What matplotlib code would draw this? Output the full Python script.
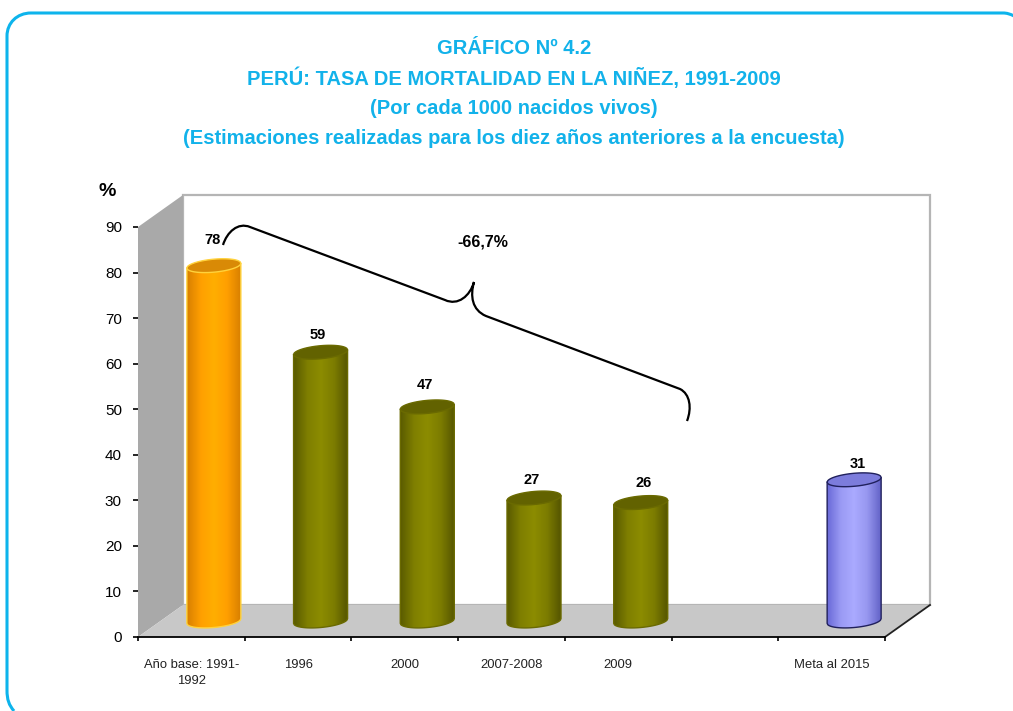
import matplotlib
matplotlib.use('Agg')
import matplotlib.pyplot as plt
import numpy as np
from matplotlib.colors import LinearSegmentedColormap
from matplotlib.patches import PathPatch, Polygon
from matplotlib.path import Path

categories = ['Año base: 1991-\n1992', '1996', '2000', '2007-2008', '2009', '', 'Meta al 2015']
values = [78, 59, 47, 27, 26, None, 31]
bar_colors = ['orange', 'olive', 'olive', 'olive', 'olive', None, 'blue']
yticks = list(range(0, 100, 10))
title_lines = ['GRÁFICO Nº 4.2',
               'PERÚ: TASA DE MORTALIDAD EN LA NIÑEZ, 1991-2009',
               '(Por cada 1000 nacidos vivos)',
               '(Estimaciones realizadas para los diez años anteriores a la encuesta)']

FONT = 'Liberation Sans'
W, H = 1013, 711
fig = plt.figure(figsize=(W / 100, H / 100), dpi=100)

# page overlay in pixels: frame, title, bracket
page = fig.add_axes([0, 0, 1, 1], zorder=3)
page.set_xlim(0, W)
page.set_ylim(H, 0)
page.axis('off')
page.patch.set_alpha(0)

M, L, C = Path.MOVETO, Path.LINETO, Path.CURVE4
frame = Path([(14, 711), (9, 705), (7, 700), (7, 690),
              (7, 36), (7, 23), (17, 13), (31, 13),
              (1003, 13), (1007, 13), (1010, 14), (1014, 16)],
             [M, C, C, C, L, C, C, C, L, C, C, C])
page.add_patch(PathPatch(frame, fc='none', ec='#0db4ec', lw=2.2))

for line, ty in zip(title_lines, [48, 78, 108, 138]):
    page.text(514, ty, line, color='#12b2ea', fontsize=14.5, fontweight='bold',
              family=FONT, ha='center', va='center')

# front plane of the 3D box is the value axes
ax = fig.add_axes([138 / W, 1 - 637 / H, (885 - 138) / W, (637 - 227) / H], zorder=2)
ax.set_autoscale_on(False)
n = len(categories)
ax.set_xlim(0, n)
ax.set_ylim(0, 90)
ax.patch.set_alpha(0)
for s in ['top', 'right', 'left']:
    ax.spines[s].set_visible(False)
ax.spines['bottom'].set_linewidth(1.3)
ax.set_xticks(range(n + 1))
ax.set_xticklabels([])
ax.set_yticks(yticks)
ax.tick_params(axis='y', length=3.6, width=1.2, labelsize=11, pad=8)
ax.tick_params(axis='x', length=3.2, width=1.2, direction='out')
for t in ax.get_yticklabels():
    t.set_family(FONT)

px_x = n / (885 - 138)
px_y = 90 / (637 - 227)
dx, dy = 45 * px_x, 32 * px_y  # box depth

ax.add_patch(Polygon([(dx, dy), (n + dx, dy), (n + dx, 90 + dy), (dx, 90 + dy)], closed=True,
                     fc='white', ec='#b5b5b5', lw=1.6, clip_on=False, zorder=0))
ax.add_patch(Polygon([(0, 0), (dx, dy), (dx, 90 + dy), (0, 90)], closed=True,
                     fc='#a9a9a9', ec='none', clip_on=False, zorder=1))
ax.add_patch(Polygon([(0, 0), (n, 0), (n + dx, dy), (dx, dy)], closed=True,
                     fc='#c8c8c8', ec='none', clip_on=False, zorder=1))
ax.plot([n, n + dx], [0, dy], color='#222222', lw=1.3, clip_on=False, zorder=2)

styles = {
    'orange': (['#d98000', '#ff9f00', '#ffae00', '#ff9f00', '#d98000'], '#d98a06', '#ffd23c'),
    'olive': (['#5a5b00', '#7f7f00', '#8c8c00', '#7c7c00', '#565600'], '#626200', '#6a6a00'),
    'blue': (['#6a6ad8', '#9a9af4', '#aaaaff', '#9797f0', '#6464c8'], '#7c7cdc', '#20205c'),
}
# label nudges from the bar top centre, in pixels
label_nudge = {0: (-1, 26), 1: (-3, 17), 2: (-2, 22), 3: (-2, 18), 4: (3, 20), 6: (4, 16)}

BAR_R, CAP_R, TILT = 27, 6.5, np.tan(np.radians(5))

for i, (v, c) in enumerate(zip(values, bar_colors)):
    if v is None:
        continue
    cx = i + 0.5 + dx / 2
    base = dy / 2
    top = base + v
    stops, cap, edge = styles[c]
    s = np.linspace(-1, 1, 80)
    bx = cx + s * BAR_R * px_x
    lower = base + (s * BAR_R * TILT - CAP_R * np.sqrt(1 - s ** 2)) * px_y
    slope = top + s * BAR_R * TILT * px_y
    upper = slope + CAP_R * np.sqrt(1 - s ** 2) * px_y
    under = slope - CAP_R * np.sqrt(1 - s ** 2) * px_y
    verts = np.r_[np.c_[bx, lower], np.c_[bx[::-1], slope[::-1]]]

    cmap = LinearSegmentedColormap.from_list(c, stops)
    im = ax.imshow(np.linspace(0, 1, 64)[None, :], cmap=cmap, aspect='auto', zorder=3,
                   extent=[bx[0], bx[-1], base - 4, top + 4], interpolation='bilinear')
    im.set_clip_path(Path(np.r_[verts, verts[:1]]), transform=ax.transData)
    ax.add_patch(Polygon(verts, closed=True, fc='none', ec=edge, lw=1.0, clip_on=False, zorder=4))
    ax.add_patch(Polygon(np.r_[np.c_[bx, upper], np.c_[bx[::-1], under[::-1]]], closed=True,
                         fc=cap, ec=edge, lw=1.0, clip_on=False, zorder=5))
    nudge_x, nudge_y = label_nudge[i]
    ax.text(cx + nudge_x * px_x, top + nudge_y * px_y, str(v), ha='center', va='center',
            fontsize=10.5, fontweight='bold', family=FONT, zorder=6)

ax.set_xlim(0, n)
ax.set_ylim(0, 90)

for i, lab in enumerate(categories):
    ax.annotate(lab, (i + 0.5, 0), xytext=(0, -16), textcoords='offset points', ha='center', va='top',
                fontsize=9.4, family=FONT, color='#222222', linespacing=1.4, annotation_clip=False)

page.text(107, 191, '%', fontsize=14, fontweight='bold', family=FONT, ha='center', va='center')
page.text(483, 242, '-66,7%', fontsize=11.5, fontweight='bold', family=FONT, ha='center', va='center')

bracket = Path([(223, 245), (227, 232), (238, 222), (250, 227),
                (445, 300), (458, 306), (470, 296), (474, 282),
                (470, 296), (472, 310), (486, 316),
                (680, 389), (690, 394), (692, 408), (687, 421)],
               [M, C, C, C, L, C, C, C, C, C, C, L, C, C, C])
page.add_patch(PathPatch(bracket, fc='none', ec='black', lw=1.6))

fig.savefig('out.png', dpi=100)
